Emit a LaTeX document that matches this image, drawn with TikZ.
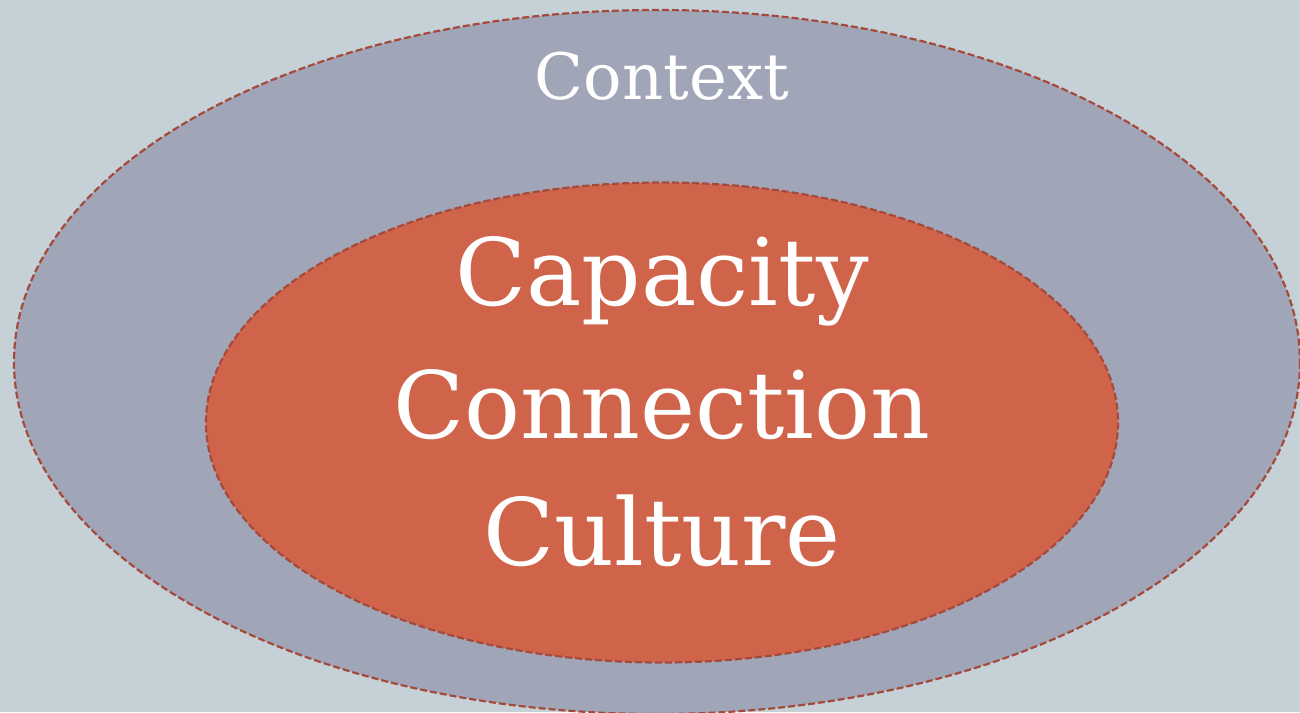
\documentclass[tikz,border=0pt]{standalone}
\usepackage{fontspec}
\setmainfont{DejaVu Serif}
\definecolor{bgcol}{HTML}{C6D1D7}
\definecolor{outercol}{HTML}{A0A5B8}
\definecolor{innercol}{HTML}{D0644A}
\definecolor{rimcol}{HTML}{A54A3A}
\tikzset{
  ring/.style={draw=rimcol, line width=1.1pt, dash pattern=on 3.5pt off 1.5pt},
  lbl/.style={text=white, inner sep=0pt, anchor=base}
}
\begin{document}
\begin{tikzpicture}[x=0.5pt, y=-0.5pt]
  % page background fixes the bounding box
  \fill[bgcol] (0,0) rectangle (1300,712);
  \useasboundingbox (0,0) rectangle (1300,712);
  \begin{scope}
    \clip (0,0) rectangle (1300,712);
    \path[ring, fill=outercol] (657,362) ellipse [x radius=643, y radius=352];
    \path[ring, fill=innercol] (662,422.5) ellipse [x radius=456, y radius=240];
  \end{scope}
  \node[lbl, font=\fontsize{32}{40}\selectfont] (context) at (662,99) {Context};
  \node[lbl, font=\fontsize{46.5}{56}\selectfont] (capacity) at (662,305) {Capacity};
  \node[lbl, font=\fontsize{46.5}{56}\selectfont] (connection) at (662,438) {Connection};
  \node[lbl, font=\fontsize{46.5}{56}\selectfont] (culture) at (662,565) {Culture};
\end{tikzpicture}
\end{document}
